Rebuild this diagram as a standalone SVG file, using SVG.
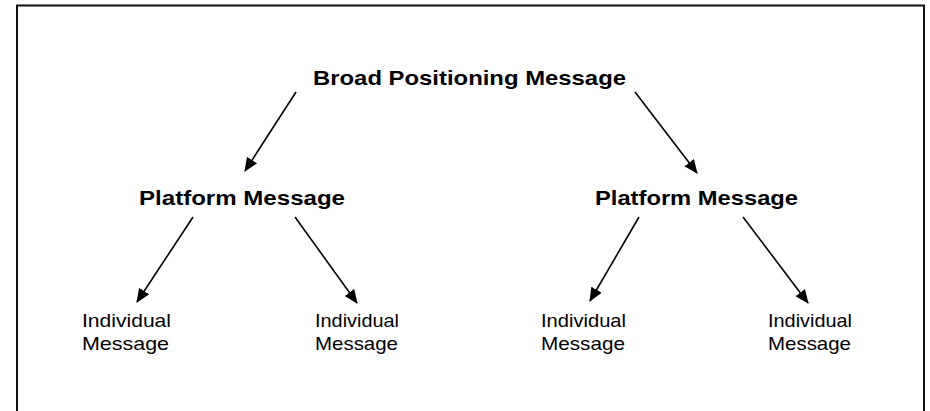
<svg xmlns="http://www.w3.org/2000/svg" width="930" height="411" viewBox="0 0 930 411">
<style>
.b{font-family:"Liberation Sans",Arial,sans-serif;font-weight:bold;font-size:21px;fill:#000}
.r{font-family:"Liberation Sans",Arial,sans-serif;font-size:18.5px;fill:#000}
.c line{stroke:#000;stroke-width:1.6}
</style>
<defs>
<marker id="ah" viewBox="0 0 14 12" refX="13" refY="6" markerWidth="14" markerHeight="12" markerUnits="userSpaceOnUse" orient="auto">
<path d="M0,0 L14,6 L0,12 z" fill="#000"/>
</marker>
</defs>
<rect width="930" height="411" fill="#fff"/>
<path d="M17,411 V5.5 H924 V411" fill="none" stroke="#111" stroke-width="2"/>
<g id="n_broad"><text class="b" x="313" y="85" textLength="313" lengthAdjust="spacingAndGlyphs">Broad Positioning Message</text></g>
<g id="n_plat1"><text class="b" x="139" y="205" textLength="206" lengthAdjust="spacingAndGlyphs">Platform Message</text></g>
<g id="n_plat2"><text class="b" x="595" y="205" textLength="203" lengthAdjust="spacingAndGlyphs">Platform Message</text></g>
<g id="n_ind1"><text class="r" x="82" y="327" textLength="89" lengthAdjust="spacingAndGlyphs">Individual</text><text class="r" x="82" y="350" textLength="87" lengthAdjust="spacingAndGlyphs">Message</text></g>
<g id="n_ind2"><text class="r" x="315" y="327" textLength="84" lengthAdjust="spacingAndGlyphs">Individual</text><text class="r" x="315" y="350" textLength="83" lengthAdjust="spacingAndGlyphs">Message</text></g>
<g id="n_ind3"><text class="r" x="541" y="327" textLength="85" lengthAdjust="spacingAndGlyphs">Individual</text><text class="r" x="541" y="350" textLength="84" lengthAdjust="spacingAndGlyphs">Message</text></g>
<g id="n_ind4"><text class="r" x="768" y="327" textLength="84" lengthAdjust="spacingAndGlyphs">Individual</text><text class="r" x="768" y="350" textLength="83" lengthAdjust="spacingAndGlyphs">Message</text></g>
<g class="c" id="connectors">
<line x1="296" y1="92" x2="245" y2="171" marker-end="url(#ah)"/>
<line x1="635" y1="92" x2="697" y2="173" marker-end="url(#ah)"/>
<line x1="193" y1="217" x2="137" y2="302" marker-end="url(#ah)"/>
<line x1="295" y1="217" x2="357" y2="303" marker-end="url(#ah)"/>
<line x1="639" y1="217" x2="590" y2="301" marker-end="url(#ah)"/>
<line x1="743" y1="217" x2="808" y2="303" marker-end="url(#ah)"/>
</g>
</svg>
